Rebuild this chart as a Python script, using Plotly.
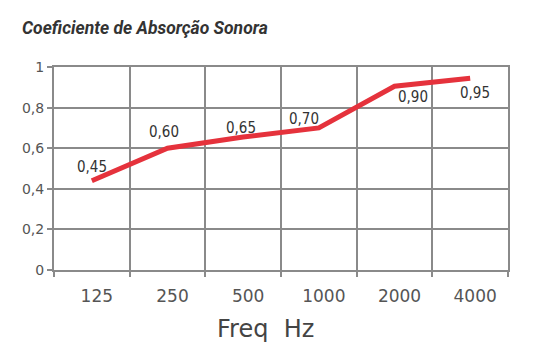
import plotly.graph_objects as go

freqs = ["125", "250", "500", "1000", "2000", "4000"]
values = [0.44, 0.60, 0.655, 0.70, 0.905, 0.945]
labels = ["0,45", "0,60", "0,65", "0,70", "0,90", "0,95"]
label_dx = [0, -4, -2, -15, 18, 5]
label_dy = [14, 16, 9, 9, -11, -15]

fig = go.Figure()
fig.add_trace(go.Scatter(
    x=list(range(len(freqs))), y=values, mode="lines",
    line=dict(color="#e5323c", width=5),
    hoverinfo="skip", showlegend=False,
))

for i, (v, t, dx, dy) in enumerate(zip(values, labels, label_dx, label_dy)):
    fig.add_annotation(x=i, y=v, text=t, showarrow=False, xshift=dx, yshift=dy,
                       font=dict(family="DejaVu Sans Condensed, sans-serif",
                                 size=15, color="#333"))

fig.add_annotation(xref="paper", yref="paper", x=0.465, y=-0.21, text="Freq  Hz",
                   showarrow=False, xanchor="center", yanchor="top",
                   font=dict(family="DejaVu Sans, sans-serif", size=24, color="#444"))

fig.update_layout(
    width=534, height=355,
    margin=dict(l=46, r=34, t=59, b=93),
    paper_bgcolor="white", plot_bgcolor="white",
    title=dict(text="<b><i>Coeficiente de Absorção Sonora</i></b>",
               x=14 / 534, xanchor="left", y=1 - 20 / 355, yanchor="middle",
               font=dict(family="Roboto, sans-serif", size=17.5, color="#333")),
    xaxis=dict(tickmode="array", tickvals=list(range(len(freqs))), ticktext=freqs,
               showgrid=False, showline=True, linecolor="#8a8a8a",
               linewidth=2, mirror=True, ticks="", range=[-0.5, 5.5], zeroline=False,
               ticklabelstandoff=10, ticklabelshift=5,
               tickfont=dict(family="DejaVu Sans, sans-serif", size=17, color="#555"),
               minor=dict(tickmode="linear", tick0=0.5, dtick=1, showgrid=True,
                          gridcolor="#8a8a8a", gridwidth=2, ticks="outside",
                          ticklen=5, tickwidth=2, tickcolor="#8a8a8a")),
    yaxis=dict(range=[0, 1], showgrid=True, gridcolor="#8a8a8a",
               gridwidth=2, showline=True, linecolor="#8a8a8a", linewidth=2,
               mirror=True, ticks="outside", ticklen=5, tickwidth=2,
               tickcolor="#8a8a8a", zeroline=False,
               tickvals=[0, 0.2, 0.4, 0.6, 0.8, 1],
               ticktext=["0", "0,2", "0,4", "0,6", "0,8", "1"],
               tickfont=dict(family="DejaVu Sans, sans-serif", size=14, color="#555")),
)

fig.write_html("out.html")
